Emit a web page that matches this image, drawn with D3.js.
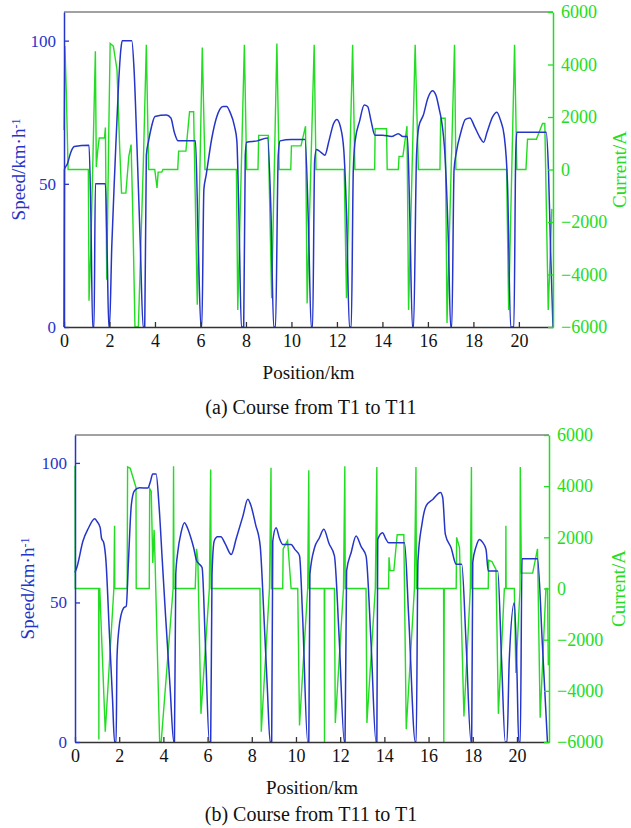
<!DOCTYPE html>
<html>
<head>
<meta charset="utf-8">
<script src="https://cdn.jsdelivr.net/npm/d3@7"></script>
<style>
  body { margin: 0; background: #fff; }
  svg text { font-family: "Liberation Serif", "Times New Roman", serif; }
</style>
</head>
<body>
<script>
// x ticks (km), left ticks (speed), right ticks (current)
const xTicks = [0, 2, 4, 6, 8, 10, 12, 14, 16, 18, 20];
const speedTicks = [0, 50, 100];
const currentTicks = [-6000, -4000, -2000, 0, 2000, 4000, 6000];

// (a) T1 -> T11 : speed [km, km/h]
const speedA = [[0,0],[0.02,55],[0.15,57],[0.3,61],[0.45,63],[1.1,63.5],[1.18,40],[1.26,0],[1.32,0],[1.38,50],[1.82,50],[1.9,25],[1.97,0],[2.0,0],[2.1,28],[2.24,56],[2.4,85],[2.5,97],[2.56,100],[2.98,100],[3.08,90],[3.2,65],[3.35,30],[3.48,0],[3.55,0],[3.62,60],[3.72,65],[3.85,70],[4.0,73.5],[4.5,74],[4.7,73],[4.85,68],[5.02,65],[5.78,65],[5.9,30],[6.02,0],[6.06,0],[6.15,48],[6.25,53],[6.5,66],[6.7,73],[6.85,76],[7.0,77],[7.15,77],[7.3,75],[7.5,70],[7.6,65],[7.7,35],[7.8,0],[7.9,0],[7.97,60],[8.03,64.5],[8.5,65],[8.95,66],[9.1,40],[9.22,0],[9.3,0],[9.42,60],[9.5,65],[10.0,65.5],[10.6,65.5],[10.75,35],[10.87,0],[10.93,0],[11.02,58],[11.1,62],[11.3,61],[11.47,60],[11.65,65],[11.85,71],[12.0,72.5],[12.15,70],[12.3,62],[12.42,40],[12.55,0],[12.63,0],[12.72,55],[12.8,65],[13.0,72],[13.2,77.5],[13.35,77],[13.5,72],[13.67,67],[14.0,67],[14.4,66.5],[14.7,67.5],[14.9,66.5],[15.1,66.5],[15.2,40],[15.32,0],[15.37,0],[15.5,60],[15.6,70],[15.8,74],[16.0,80],[16.2,82.5],[16.35,81],[16.5,76],[16.6,72],[16.75,60],[16.9,30],[17.0,0],[17.05,0],[17.15,55],[17.25,61],[17.45,68],[17.65,72.5],[17.85,73],[18.05,70],[18.3,66],[18.45,64.5],[18.6,68],[18.85,73.5],[19.03,75],[19.2,72],[19.35,67],[19.5,50],[19.64,0],[19.78,0],[19.86,60],[19.91,68],[20.5,68],[21.2,68],[21.3,55],[21.4,25],[21.5,0]];

// (a) T1 -> T11 : current [km, A]
const currentA = [[0,1500],[0.04,4700],[0.1,3000],[0.18,0],[1.07,0],[1.1,-5000],[1.18,-3000],[1.3,1500],[1.38,4500],[1.42,100],[1.48,700],[1.55,1200],[1.78,1200],[1.82,1600],[1.88,-4200],[1.97,1500],[2.03,4800],[2.17,4700],[2.33,3800],[2.45,800],[2.53,-900],[2.72,-900],[2.85,500],[2.95,950],[3.02,-1500],[3.12,-6000],[3.27,-6000],[3.49,300],[3.62,4750],[3.72,0],[3.99,0],[4.09,-700],[4.14,-100],[4.3,-100],[4.35,0],[5.0,0],[5.04,700],[5.36,700],[5.52,2200],[5.7,2200],[5.86,-5150],[6.08,4650],[6.2,0],[7.58,0],[7.64,-5350],[7.93,4750],[8.03,0],[8.53,0],[8.56,1300],[8.98,1300],[9.13,-4900],[9.36,4800],[9.46,0],[9.97,0],[10.0,900],[10.42,900],[10.62,1650],[10.69,-5100],[11.0,4750],[11.08,0],[12.32,0],[12.42,-4900],[12.69,4750],[12.79,0],[13.66,0],[13.68,1550],[14.18,1550],[14.21,0],[14.7,0],[14.73,500],[14.9,500],[15.08,1650],[15.15,-5350],[15.44,4750],[15.58,0],[16.53,0],[16.56,1950],[16.76,1950],[16.84,-5850],[17.17,4750],[17.23,0],[19.46,0],[19.55,-5350],[19.81,4750],[19.91,0],[20.31,0],[20.38,1150],[20.77,1150],[21.04,1750],[21.14,1750],[21.29,-5350],[21.45,-1500]];

// (b) T11 -> T1 : speed [km, km/h]
const speedB = [[0,60.7],[0.1,63],[0.36,72],[0.6,76.5],[0.89,80],[1.0,79],[1.14,76.8],[1.2,73],[1.3,71.4],[1.4,65],[1.55,40],[1.7,15],[1.79,0],[1.86,0],[1.9,30],[1.98,40],[2.09,45.7],[2.2,48],[2.32,48.7],[2.42,65],[2.55,85],[2.69,90],[2.92,91.1],[3.3,91],[3.4,93],[3.52,96],[3.67,96],[3.8,85],[3.95,65],[4.1,45],[4.3,20],[4.47,0],[4.5,0],[4.56,60],[4.65,68],[4.8,75],[4.95,78.6],[5.1,76.5],[5.25,73],[5.37,69.6],[5.5,65],[5.63,63.7],[5.75,62.5],[5.9,35],[6.08,0],[6.14,0],[6.2,60],[6.3,72],[6.45,73.5],[6.6,73.5],[6.8,71],[7.07,67.2],[7.3,73],[7.6,81],[7.82,87],[7.95,85],[8.17,78],[8.38,70.3],[8.55,45],[8.7,20],[8.83,0],[8.9,0],[8.95,72],[9.1,76.8],[9.25,73],[9.4,70.8],[9.78,70.8],[9.95,69],[10.16,66.7],[10.3,45],[10.53,0],[10.58,0],[10.63,60],[10.84,69.6],[11.05,73],[11.26,76.2],[11.5,71],[11.74,66.7],[11.95,38],[12.19,0],[12.22,0],[12.29,61.3],[12.5,68],[12.72,73.8],[12.95,70],[13.17,66.7],[13.4,35],[13.62,0],[13.66,0],[13.7,72.6],[13.92,75],[14.05,73],[14.19,71.4],[14.91,71.4],[15.1,45],[15.4,0],[15.44,0],[15.52,64.9],[15.7,78],[15.89,84.6],[16.2,87],[16.54,89.4],[16.64,87.6],[16.76,74.4],[17.02,69.6],[17.25,63.7],[17.5,63.7],[17.7,35],[17.92,0],[17.95,0],[18.0,64.3],[18.15,70],[18.3,72.6],[18.45,71.5],[18.6,69],[18.7,61.3],[19.13,61.3],[19.3,30],[19.47,0],[19.55,0],[19.65,29],[19.88,49.9],[20.0,25],[20.08,0],[20.15,0],[20.23,65.7],[20.93,65.7],[21.15,35],[21.38,0]];

// (b) T11 -> T1 : current [km, A]
const currentB = [[0,4800],[0.01,0],[1.07,0],[1.08,-5900],[1.09,0],[1.12,0],[1.37,-5600],[1.76,0],[1.79,2450],[1.8,0],[2.36,0],[2.38,4750],[2.5,4700],[2.76,3950],[2.77,0],[3.36,0],[3.38,3900],[3.45,3800],[3.52,1000],[3.58,2300],[3.62,1200],[3.83,-6000],[3.9,-6000],[4.44,0],[4.46,4780],[4.48,0],[5.44,0],[5.5,1550],[5.56,1100],[5.7,-4900],[6.08,0],[6.14,4650],[6.16,0],[8.37,0],[8.43,-5600],[8.8,0],[8.87,4720],[8.89,0],[9.4,0],[9.42,1550],[9.62,1880],[9.78,0],[10.08,0],[10.16,-5350],[10.53,0],[10.58,4620],[10.6,0],[11.28,0],[11.29,-6000],[11.3,0],[11.74,0],[11.78,-5260],[12.15,0],[12.21,4780],[12.23,0],[13.17,0],[13.21,-5260],[13.59,0],[13.66,4750],[13.68,0],[14.19,0],[14.21,1220],[14.26,700],[14.43,700],[14.58,2100],[14.88,2100],[14.99,-5500],[15.36,0],[15.43,4750],[15.45,0],[16.68,0],[16.69,-6000],[16.71,0],[17.25,0],[17.27,2000],[17.4,1600],[17.6,-5000],[17.89,0],[17.94,4750],[17.96,0],[18.7,0],[18.72,1100],[18.87,1050],[19.05,750],[19.16,-4900],[19.43,0],[19.49,0],[19.5,2450],[19.51,0],[19.88,0],[19.95,-3300],[20.14,0],[20.15,4750],[20.2,600],[20.71,600],[20.93,1550],[21.05,-5050],[21.31,0],[21.38,0],[21.42,-3000]];

const blue = "#2535c8";
const green = "#22dd22";

const svg = d3.select("body").append("svg")
    .attr("width", 631)
    .attr("height", 828);

// draw one panel: speed on the left axis, current on the right axis
function drawPanel(p) {
    let x = d3.scaleLinear().domain([0, p.xMax]).range([p.left, p.right]);
    let yS = d3.scaleLinear().domain([0, 110]).range([p.bottom, p.top]);
    let yC = d3.scaleLinear().domain([-6000, 6000]).range([p.bottom, p.top]);

    let g = svg.append("g");

    // top border
    g.append("line")
        .attr("x1", p.left).attr("x2", p.right)
        .attr("y1", p.top).attr("y2", p.top)
        .attr("stroke", "#444").attr("stroke-width", 1.2);

    // lines
    let speedLine = d3.line()
        .x(d => x(d[0])).y(d => yS(d[1]))
        .curve(d3.curveMonotoneX);
    let currentLine = d3.line()
        .x(d => x(d[0])).y(d => yC(d[1]));

    g.append("path")
        .datum(p.current)
        .attr("d", currentLine)
        .attr("fill", "none")
        .attr("stroke", green)
        .attr("stroke-width", 1.4);

    g.append("path")
        .datum(p.speed)
        .attr("d", speedLine)
        .attr("fill", "none")
        .attr("stroke", blue)
        .attr("stroke-width", 1.5);

    // bottom axis
    let xAxis = g.append("g")
        .attr("transform", "translate(0," + p.bottom + ")")
        .call(d3.axisBottom(x).tickValues(xTicks).tickSize(-5).tickPadding(7).tickSizeOuter(0));
    xAxis.select(".domain").attr("stroke", "#333").attr("stroke-width", 1.5);
    xAxis.selectAll(".tick line").attr("stroke", "#333").attr("stroke-width", 1.3);
    xAxis.selectAll("text").attr("fill", "#111").style("font-size", "18px");

    // left axis (speed)
    let yAxisL = g.append("g")
        .attr("transform", "translate(" + p.left + ",0)")
        .call(d3.axisLeft(yS).tickValues(speedTicks).tickSize(-5).tickPadding(8).tickSizeOuter(0));
    yAxisL.select(".domain").attr("stroke", blue).attr("stroke-width", 1.5);
    yAxisL.selectAll(".tick line").attr("stroke", blue).attr("stroke-width", 1.3);
    yAxisL.selectAll("text").attr("fill", blue).style("font-size", "17px");

    // right axis (current)
    let yAxisR = g.append("g")
        .attr("transform", "translate(" + p.right + ",0)")
        .call(d3.axisRight(yC).tickValues(currentTicks).tickSize(-5).tickPadding(8).tickSizeOuter(0)
            .tickFormat(d3.format("d")));
    yAxisR.select(".domain").attr("stroke", green).attr("stroke-width", 1.5);
    yAxisR.selectAll(".tick line").attr("stroke", green).attr("stroke-width", 1.3);
    yAxisR.selectAll("text").attr("fill", green).style("font-size", "18px");

    // axis titles
    let sl = g.append("text")
        .attr("transform", "translate(" + p.speedLabelX + "," + ((p.top + p.bottom) / 2) + ") rotate(-90)")
        .attr("text-anchor", "middle")
        .attr("fill", blue)
        .style("font-size", "19px");
    sl.append("tspan").text("Speed/km·h");
    sl.append("tspan").text("-1").attr("dy", "-0.45em").style("font-size", "12px");

    g.append("text")
        .attr("transform", "translate(" + p.currentLabelX + "," + ((p.top + p.bottom) / 2) + ") rotate(-90)")
        .attr("text-anchor", "middle")
        .attr("fill", green)
        .style("font-size", "19px")
        .text("Current/A");

    g.append("text")
        .attr("x", (p.left + p.right) / 2)
        .attr("y", p.bottom + 52)
        .attr("text-anchor", "middle")
        .attr("fill", "#111")
        .style("font-size", "19px")
        .text("Position/km");

    g.append("text")
        .attr("x", p.captionX)
        .attr("y", p.captionY)
        .attr("text-anchor", "middle")
        .attr("fill", "#111")
        .style("font-size", "20px")
        .text(p.caption);
}

drawPanel({
    left: 64, right: 553, top: 12, bottom: 327, xMax: 21.5,
    speed: speedA, current: currentA,
    speedLabelX: 25, currentLabelX: 626,
    captionX: 311, captionY: 414,
    caption: "(a) Course from T1 to T11"
});

drawPanel({
    left: 75, right: 549, top: 435, bottom: 742, xMax: 21.45,
    speed: speedB, current: currentB,
    speedLabelX: 34, currentLabelX: 625,
    captionX: 311, captionY: 821,
    caption: "(b) Course from T11 to T1"
});
</script>
</body>
</html>
